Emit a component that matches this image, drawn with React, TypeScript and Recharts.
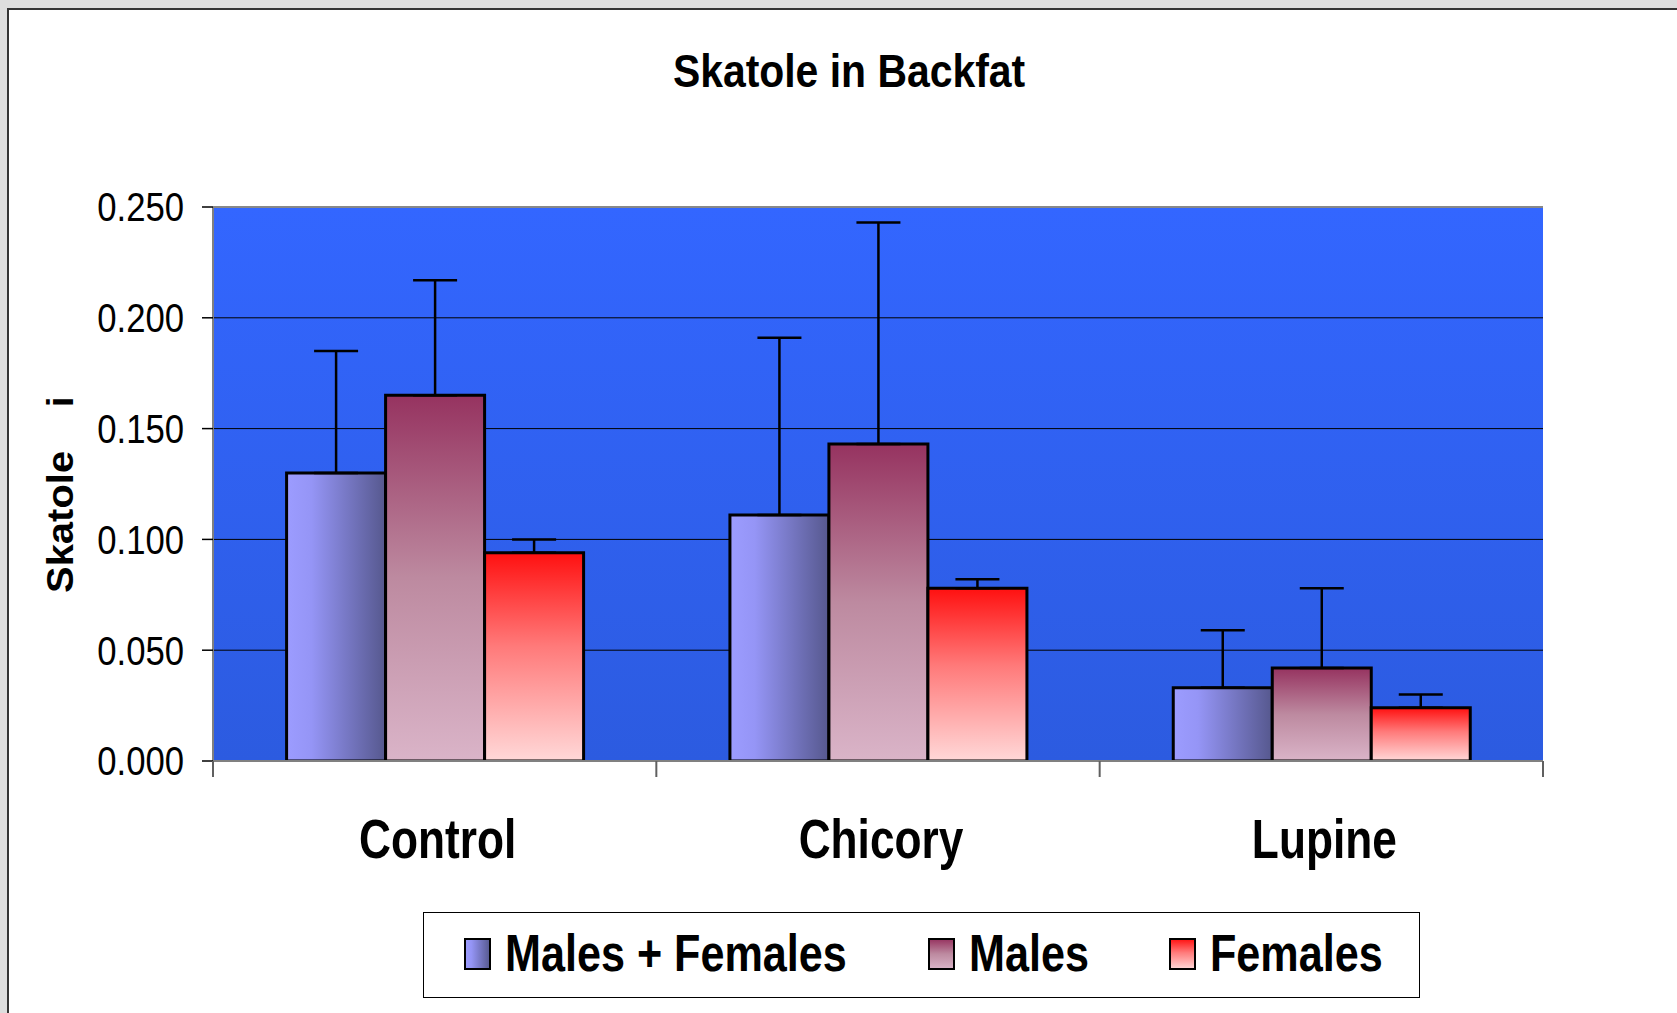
import React from "react";
import {
  BarChart,
  Bar,
  XAxis,
  YAxis,
  CartesianGrid,
  ErrorBar,
  Legend,
  ReferenceLine,
} from "recharts";

// data
const categories = ["Control", "Chicory", "Lupine"];
const seriesNames = ["Males + Females", "Males", "Females"];
const malesFemales = [0.13, 0.111, 0.033];
const males = [0.165, 0.143, 0.042];
const females = [0.094, 0.078, 0.024];
// upper error bars (only drawn above the bar)
const malesFemalesErr = [0.055, 0.08, 0.026];
const malesErr = [0.052, 0.1, 0.036];
const femalesErr = [0.006, 0.004, 0.006];
const yTicks = [0, 0.05, 0.1, 0.15, 0.2, 0.25];

const FONT = '"Liberation Sans", Arial, sans-serif';

// layout
const W = 1677;
const H = 1013;
const PLOT_LEFT = 213;
const PLOT_TOP = 207;
const PLOT_RIGHT = 1543;
const PLOT_BOTTOM = 761;
const Y_AXIS_W = 120;
const X_AXIS_H = 120;
const PLOT_W = PLOT_RIGHT - PLOT_LEFT;

const chartData = categories.map((name, i) => ({
  name,
  both: malesFemales[i],
  bothErr: [0, malesFemalesErr[i]],
  males: males[i],
  malesErr: [0, malesErr[i]],
  females: females[i],
  femalesErr: [0, femalesErr[i]],
}));

const fills = ["url(#gBoth)", "url(#gMales)", "url(#gFemales)"];
const legendItemX = [42, 506, 747];

// y tick labels are a bit narrow in the original
const ValueTick = ({ x, y, payload }: any) => (
  <text
    transform={`translate(${x},${y}) scale(0.867,1)`}
    textAnchor="end"
    dy="0.36em"
    fontSize={40}
    fontFamily={FONT}
    fill="#000">
    {Number(payload.value).toFixed(3)}
  </text>
);

// category label + tick marks on the category boundaries
const CategoryTick = ({ x, y, payload, index, visibleTicksCount }: any) => {
  const half = PLOT_W / categories.length / 2;
  const last = index === visibleTicksCount - 1;
  return (
    <g>
      <line x1={x - half} x2={x - half} y1={y} y2={y + 16} stroke="#606060" strokeWidth={2} />
      {last && (
        <line x1={x + half} x2={x + half} y1={y} y2={y + 16} stroke="#606060" strokeWidth={2} />
      )}
      <text
        transform={`translate(${x + 3},${y + 97}) scale(0.79,1)`}
        textAnchor="middle"
        fontSize={56}
        fontWeight="bold"
        fontFamily={FONT}
        fill="#000">
        {payload.value}
      </text>
    </g>
  );
};

const renderLegend = (props: any) => {
  const payload = props.payload || [];
  return (
    <svg width={997} height={86} style={{ display: "block" }}>
      <rect x={0.5} y={0.5} width={996} height={85} fill="#fff" stroke="#000" strokeWidth={1} />
      {payload.map((entry: any) => {
        // legend sorts its items, so put each back in series order
        const i = seriesNames.indexOf(entry.value);
        return (
          <g key={`leg-${entry.value}`}>
            <rect
              x={legendItemX[i]}
              y={27}
              width={25}
              height={30}
              fill={fills[i]}
              stroke="#000"
              strokeWidth={2}
            />
            <text
              transform={`translate(${legendItemX[i] + 40},59) scale(0.83,1)`}
              fontSize={52}
              fontWeight="bold"
              fontFamily={FONT}
              fill="#000">
              {entry.value}
            </text>
          </g>
        );
      })}
    </svg>
  );
};

export default function App() {
  return (
    <div
      style={{
        position: "absolute",
        left: 0,
        top: 0,
        width: W,
        height: H,
        background: "#dddddd",
        overflow: "hidden",
      }}>
      {/* white sheet with dark frame */}
      <div
        style={{
          position: "absolute",
          left: 7,
          top: 8,
          width: W + 40,
          height: H + 40,
          background: "#fff",
          borderLeft: "2px solid #333",
          borderTop: "2px solid #333",
        }}
      />

      <div style={{ position: "absolute", left: 0, top: 0 }}>
        <BarChart
          width={W}
          height={H}
          data={chartData}
          barCategoryGap="16.6%"
          barGap={0}
          margin={{
            top: PLOT_TOP,
            right: W - PLOT_RIGHT,
            bottom: H - PLOT_BOTTOM - X_AXIS_H,
            left: PLOT_LEFT - Y_AXIS_W,
          }}>
          <defs>
            <linearGradient id="gPlot" x1="0" y1="0" x2="0" y2="1">
              <stop offset="0%" stopColor="#3366ff" />
              <stop offset="100%" stopColor="#2c5be0" />
            </linearGradient>
            <linearGradient id="gBoth" x1="0" y1="0" x2="1" y2="0">
              <stop offset="0%" stopColor="#9c9cff" />
              <stop offset="25%" stopColor="#9595f6" />
              <stop offset="100%" stopColor="#56588e" />
            </linearGradient>
            <linearGradient id="gMales" x1="0" y1="0" x2="0" y2="1">
              <stop offset="0%" stopColor="#963360" />
              <stop offset="50%" stopColor="#bd8aa0" />
              <stop offset="100%" stopColor="#dab4c8" />
            </linearGradient>
            <linearGradient id="gFemales" x1="0" y1="0" x2="0" y2="1">
              <stop offset="0%" stopColor="#ff1010" />
              <stop offset="45%" stopColor="#ff7a7a" />
              <stop offset="100%" stopColor="#ffd8d8" />
            </linearGradient>
          </defs>

          <CartesianGrid
            vertical={false}
            stroke="#000"
            strokeWidth={1}
            fill="url(#gPlot)"
            fillOpacity={1}
          />
          <XAxis
            dataKey="name"
            height={X_AXIS_H}
            interval={0}
            tickLine={false}
            tickSize={0}
            tickMargin={0}
            axisLine={{ stroke: "#808080", strokeWidth: 2 }}
            tick={<CategoryTick />}
          />
          <YAxis
            type="number"
            width={Y_AXIS_W}
            domain={[0, 0.25]}
            ticks={yTicks}
            allowDataOverflow
            tickSize={11}
            tickMargin={18}
            axisLine={{ stroke: "#808080", strokeWidth: 2 }}
            tickLine={{ stroke: "#000", strokeWidth: 1.5 }}
            tick={<ValueTick />}
          />
          <YAxis
            yAxisId="frame"
            orientation="right"
            width={0}
            domain={[0, 0.25]}
            tick={false}
            tickLine={false}
            axisLine={{ stroke: "#888", strokeWidth: 3 }}
          />
          <ReferenceLine y={0.25} stroke="#888" strokeWidth={2} />

          <Bar
            dataKey="both"
            name={seriesNames[0]}
            fill={fills[0]}
            stroke="#000"
            strokeWidth={3}
            isAnimationActive={false}>
            <ErrorBar dataKey="bothErr" direction="y" width={22} strokeWidth={2.5} stroke="#000" />
          </Bar>
          <Bar
            dataKey="males"
            name={seriesNames[1]}
            fill={fills[1]}
            stroke="#000"
            strokeWidth={3}
            isAnimationActive={false}>
            <ErrorBar dataKey="malesErr" direction="y" width={22} strokeWidth={2.5} stroke="#000" />
          </Bar>
          <Bar
            dataKey="females"
            name={seriesNames[2]}
            fill={fills[2]}
            stroke="#000"
            strokeWidth={3}
            isAnimationActive={false}>
            <ErrorBar dataKey="femalesErr" direction="y" width={22} strokeWidth={2.5} stroke="#000" />
          </Bar>

          <Legend
            layout="horizontal"
            align="center"
            verticalAlign="middle"
            wrapperStyle={{ left: 423, top: 912, width: 997, height: 86 }}
            content={renderLegend}
          />
        </BarChart>
      </div>

      {/* title and y axis label */}
      <svg
        width={W}
        height={H}
        style={{ position: "absolute", left: 0, top: 0, pointerEvents: "none" }}>
        <text
          transform="translate(849,87) scale(0.87,1)"
          textAnchor="middle"
          fontSize={47}
          fontWeight="bold"
          fontFamily={FONT}
          fill="#000">
          Skatole in Backfat
        </text>
        <text
          transform="translate(73,593) rotate(-90) scale(1.08,1)"
          fontSize={37}
          fontWeight="bold"
          fontFamily={FONT}
          fill="#000">
          Skatole
        </text>
        <text
          transform="translate(73,407) rotate(-90)"
          fontSize={37}
          fontWeight="bold"
          fontFamily={FONT}
          fill="#000">
          i
        </text>
      </svg>
    </div>
  );
}
